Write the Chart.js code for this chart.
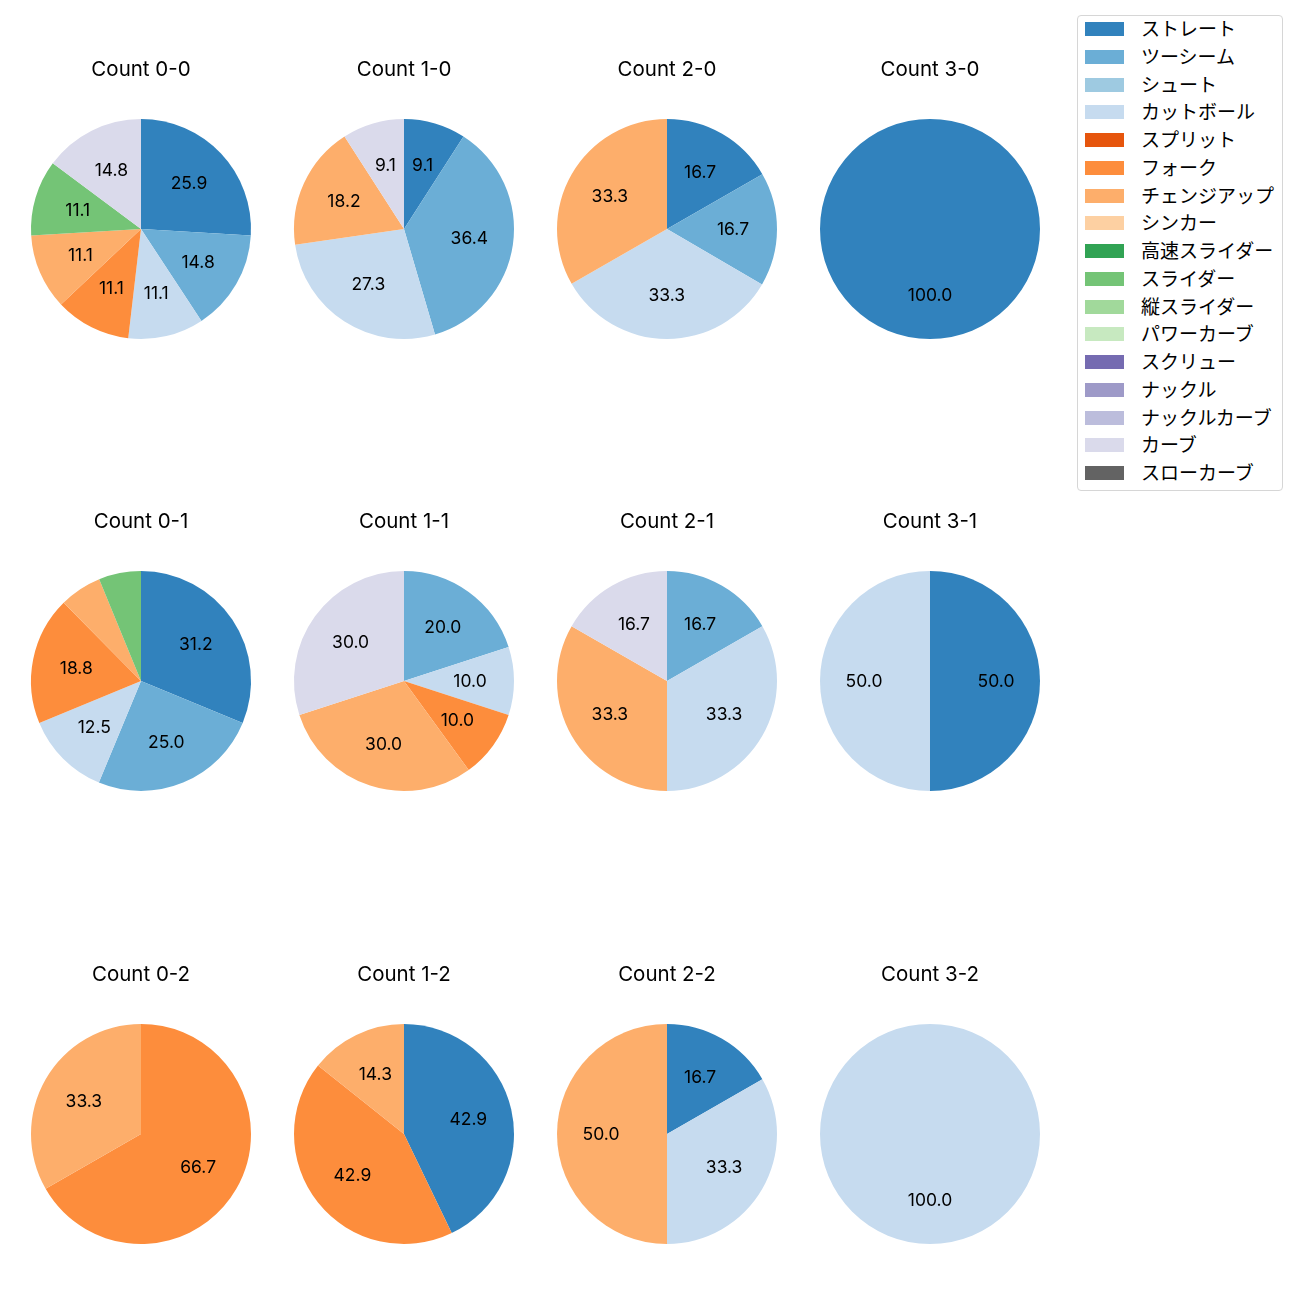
<!DOCTYPE html>
<html>
<head>
<meta charset="utf-8">
<script src="https://cdn.jsdelivr.net/npm/chart.js@4.4.1/dist/chart.umd.min.js"></script>
<style>
  body { margin: 0; background: #fff; font-family: "Noto Sans CJK JP", "Noto Sans", sans-serif; }
  #page { position: relative; width: 1300px; height: 1300px; overflow: hidden; }
  #page canvas { position: absolute; }
  .legend { position: absolute; left: 1077px; top: 15px; width: 204px; height: 474px;
    border: 1px solid #d6d6d6; border-radius: 4px; background: #fff; }
  .legend .sw { position: absolute; left: 7px; width: 39px; height: 14px; }
  .legend .tx { position: absolute; left: 63px; font-size: 19px; line-height: 20px; color: #000; white-space: nowrap; }
</style>
</head>
<body>
<div id="page"></div>
<script>
// pitch types and colours (tab20c)
var pitchTypes = ['ストレート', 'ツーシーム', 'シュート', 'カットボール', 'スプリット', 'フォーク',
  'チェンジアップ', 'シンカー', '高速スライダー', 'スライダー', '縦スライダー', 'パワーカーブ',
  'スクリュー', 'ナックル', 'ナックルカーブ', 'カーブ', 'スローカーブ'];
var pitchColors = ['#3182bd', '#6baed6', '#9ecae1', '#c6dbef', '#e6550d', '#fd8d3c',
  '#fdae6b', '#fdd0a2', '#31a354', '#74c476', '#a1d99b', '#c7e9c0',
  '#756bb1', '#9e9ac8', '#bcbddc', '#dadaeb', '#636363'];

// percentages per count, in the order of pitchTypes
var count00 = [25.9, 14.8, 0, 11.1, 0, 11.1, 11.1, 0, 0, 11.1, 0, 0, 0, 0, 0, 14.8, 0];
var count10 = [9.1, 36.4, 0, 27.3, 0, 0, 18.2, 0, 0, 0, 0, 0, 0, 0, 0, 9.1, 0];
var count20 = [16.7, 16.7, 0, 33.3, 0, 0, 33.3, 0, 0, 0, 0, 0, 0, 0, 0, 0, 0];
var count30 = [100.0, 0, 0, 0, 0, 0, 0, 0, 0, 0, 0, 0, 0, 0, 0, 0, 0];
var count01 = [31.2, 25.0, 0, 12.5, 0, 18.8, 6.2, 0, 0, 6.2, 0, 0, 0, 0, 0, 0, 0];
var count11 = [0, 20.0, 0, 10.0, 0, 10.0, 30.0, 0, 0, 0, 0, 0, 0, 0, 0, 30.0, 0];
var count21 = [0, 16.7, 0, 33.3, 0, 0, 33.3, 0, 0, 0, 0, 0, 0, 0, 0, 16.7, 0];
var count31 = [50.0, 0, 0, 50.0, 0, 0, 0, 0, 0, 0, 0, 0, 0, 0, 0, 0, 0];
var count02 = [0, 0, 0, 0, 0, 66.7, 33.3, 0, 0, 0, 0, 0, 0, 0, 0, 0, 0];
var count12 = [42.9, 0, 0, 0, 0, 42.9, 14.3, 0, 0, 0, 0, 0, 0, 0, 0, 0, 0];
var count22 = [16.7, 0, 0, 33.3, 0, 0, 50.0, 0, 0, 0, 0, 0, 0, 0, 0, 0, 0];
var count32 = [0, 0, 0, 100.0, 0, 0, 0, 0, 0, 0, 0, 0, 0, 0, 0, 0, 0];

var countTitles = ['Count 0-0', 'Count 1-0', 'Count 2-0', 'Count 3-0',
  'Count 0-1', 'Count 1-1', 'Count 2-1', 'Count 3-1',
  'Count 0-2', 'Count 1-2', 'Count 2-2', 'Count 3-2'];
var countValues = [count00, count10, count20, count30,
  count01, count11, count21, count31,
  count02, count12, count22, count32];

var FONT = 'Inter, "Noto Sans CJK JP", sans-serif';
var colX = [141, 404, 667, 930];
var rowY = [229, 681, 1134];
var page = document.getElementById('page');

// title + percentage labels, placed like matplotlib autopct (0.6 r)
var pieText = {
  id: 'pieText',
  afterDraw: function (chart) {
    var ctx = chart.ctx;
    var meta = chart.getDatasetMeta(0);
    var vals = chart.data.datasets[0].data;
    ctx.save();
    ctx.fillStyle = '#000';
    ctx.textAlign = 'center';
    ctx.textBaseline = 'middle';
    ctx.font = '17.5px ' + FONT;
    meta.data.forEach(function (arc, i) {
      if (vals[i] < 7) return;
      var p = arc.getProps(['x', 'y', 'startAngle', 'endAngle', 'outerRadius'], true);
      var a = (p.startAngle + p.endAngle) / 2;
      var r = p.outerRadius * 0.6;
      ctx.fillText(vals[i].toFixed(1), p.x + Math.cos(a) * r, p.y + Math.sin(a) * r + 0.5);
    });
    ctx.font = '20.5px ' + FONT;
    ctx.fillText(chart.options.plugins.pieTitle.text, chart.width / 2, 26);
    ctx.restore();
  }
};

countValues.forEach(function (vals, k) {
  var cx = colX[k % 4], cy = rowY[Math.floor(k / 4)];
  var cv = document.createElement('canvas');
  cv.width = 250; cv.height = 310;
  cv.style.left = (cx - 125) + 'px';
  cv.style.top = (cy - 185) + 'px';
  page.appendChild(cv);
  new Chart(cv.getContext('2d'), {
    type: 'pie',
    data: {
      labels: pitchTypes,
      datasets: [{ data: vals, backgroundColor: pitchColors, borderWidth: 0 }]
    },
    options: {
      responsive: false,
      animation: false,
      devicePixelRatio: 1,
      layout: { padding: { top: 75, bottom: 15, left: 15, right: 15 } },
      plugins: {
        legend: { display: false },
        tooltip: { enabled: false },
        pieTitle: { text: countTitles[k] }
      }
    },
    plugins: [pieText]
  });
});

// legend box
var lg = document.createElement('div');
lg.className = 'legend';
pitchTypes.forEach(function (name, i) {
  var y = 13 + i * 27.75;
  var sw = document.createElement('div');
  sw.className = 'sw';
  sw.style.top = (y - 7) + 'px';
  sw.style.background = pitchColors[i];
  var tx = document.createElement('div');
  tx.className = 'tx';
  tx.style.top = (y - 11) + 'px';
  tx.textContent = name;
  lg.appendChild(sw);
  lg.appendChild(tx);
});
page.appendChild(lg);
</script>
</body>
</html>
